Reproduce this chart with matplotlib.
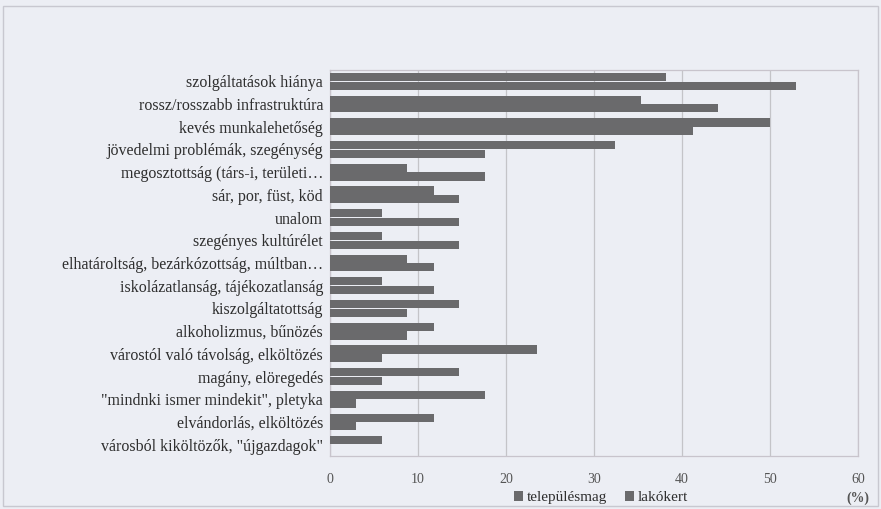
import numpy as np
import matplotlib.pyplot as plt
from matplotlib.patches import Rectangle

plt.rcParams['font.family'] = ['Liberation Serif', 'DejaVu Serif']

categories = [
    'szolgáltatások hiánya',
    'rossz/rosszabb infrastruktúra',
    'kevés munkalehetőség',
    'jövedelmi problémák, szegénység',
    'megosztottság (társ-i, területi…',
    'sár, por, füst, köd',
    'unalom',
    'szegényes kultúrélet',
    'elhatároltság, bezárkózottság, múltban…',
    'iskolázatlanság, tájékozatlanság',
    'kiszolgáltatottság',
    'alkoholizmus, bűnözés',
    'várostól való távolság, elköltözés',
    'magány, elöregedés',
    '"mindnki ismer mindekit", pletyka',
    'elvándorlás, elköltözés',
    'városból kiköltözők, "újgazdagok"',
]
telepulesmag = [38.2, 35.3, 50.0, 32.4, 8.8, 11.8, 5.9, 5.9, 8.8, 5.9,
                14.7, 11.8, 23.5, 14.7, 17.6, 11.8, 5.9]
lakokert = [52.9, 44.1, 41.2, 17.6, 17.6, 14.7, 14.7, 14.7, 11.8, 11.8,
            8.8, 8.8, 5.9, 5.9, 2.9, 2.9, 0.0]
xticks = [0, 10, 20, 30, 40, 50, 60]

bg = '#eceef4'
bar_col = '#6a6a6c'
txt_col = '#2e2e2e'

fig = plt.figure(figsize=(8.81, 5.09), dpi=100, facecolor=bg)
ax = fig.add_axes([0.3746, 0.1041, 0.5993, 0.7584], facecolor=bg)

y = np.arange(len(categories))
h = 0.36
ax.barh(y - 0.19, telepulesmag, height=h, color=bar_col, label='településmag', zorder=3)
ax.barh(y + 0.19, lakokert, height=h, color=bar_col, label='lakókert', zorder=3)

ax.set_ylim(len(categories) - 0.5, -0.5)
ax.set_xlim(0, 60)
ax.set_xticks(xticks)
ax.set_xticklabels([str(t) for t in xticks], fontsize=10, color='#555555')
ax.set_yticks(y)
ax.set_yticklabels(categories, fontsize=11.5, color=txt_col)
ax.tick_params(axis='both', length=0)
ax.tick_params(axis='x', pad=12)
ax.tick_params(axis='y', pad=5)
ax.grid(axis='x', color='#c4c4c8', linewidth=0.9, zorder=0)
for s in ax.spines.values():
    s.set_color('#c8c4cc')
    s.set_linewidth(0.9)

fig.legend(loc='center', bbox_to_anchor=(0.682, 0.022), ncol=2, frameon=False,
           fontsize=11, handlelength=0.6, handleheight=0.6, handletextpad=0.2,
           columnspacing=1.2, labelcolor=txt_col)
fig.text(0.974, 0.022, '(%)', ha='center', va='center', fontsize=10,
         fontweight='bold', color='#555555')

fig.patches.append(Rectangle((0.003, 0.005), 0.994, 0.983, transform=fig.transFigure,
                             fill=False, edgecolor='#c8c8d0', linewidth=1.0))

fig.savefig('out.png', dpi=100, facecolor=bg)
